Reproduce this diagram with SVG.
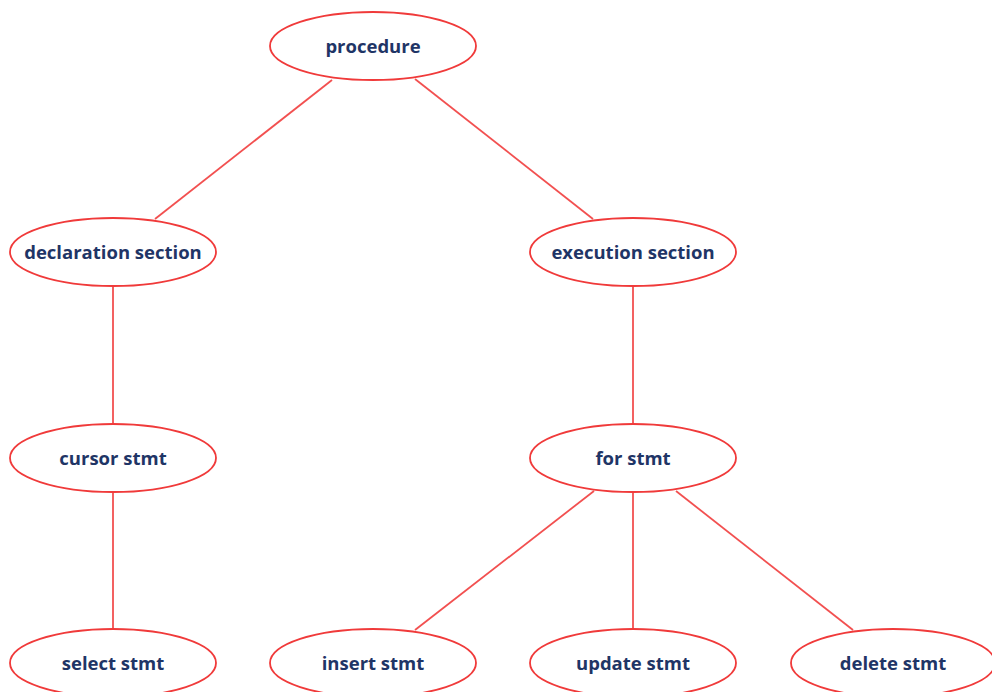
<svg xmlns="http://www.w3.org/2000/svg" width="992" height="692" viewBox="0 0 992 692">
<style>
.n ellipse{fill:#fff;stroke:#f03a3a;stroke-width:1.8}
.n text{font-family:"Open Sans","Noto Sans",sans-serif;font-weight:bold;font-size:18.5px;fill:#1f3566;text-anchor:middle;dominant-baseline:central}
#edges line{stroke:#f25050;stroke-width:1.8}
</style>
<rect width="992" height="692" fill="#fff"/>
<g id="edges">
<line x1="332" y1="80" x2="155" y2="219"/>
<line x1="415" y1="79" x2="593" y2="219"/>
<line x1="113" y1="286" x2="113" y2="424"/>
<line x1="633" y1="286" x2="633" y2="424"/>
<line x1="113" y1="492" x2="113" y2="629"/>
<line x1="594" y1="491" x2="415" y2="630"/>
<line x1="633" y1="492" x2="633" y2="629"/>
<line x1="676" y1="491" x2="853" y2="630"/>
</g>
<g id="procedure" class="n"><ellipse cx="373" cy="46" rx="103" ry="34"/><text x="373" y="45">procedure</text></g>
<g id="declaration" class="n"><ellipse cx="113" cy="252" rx="103" ry="34"/><text x="113" y="251">declaration section</text></g>
<g id="execution" class="n"><ellipse cx="633" cy="252" rx="103" ry="34"/><text x="633" y="251">execution section</text></g>
<g id="cursor" class="n"><ellipse cx="113" cy="458" rx="103" ry="34"/><text x="113" y="457">cursor stmt</text></g>
<g id="for" class="n"><ellipse cx="633" cy="458" rx="103" ry="34"/><text x="633" y="457">for stmt</text></g>
<g id="select" class="n"><ellipse cx="113" cy="663" rx="103" ry="34"/><text x="113" y="662">select stmt</text></g>
<g id="insert" class="n"><ellipse cx="373" cy="663" rx="103" ry="34"/><text x="373" y="662">insert stmt</text></g>
<g id="update" class="n"><ellipse cx="633" cy="663" rx="103" ry="34"/><text x="633" y="662">update stmt</text></g>
<g id="delete" class="n"><ellipse cx="893" cy="663" rx="102" ry="34"/><text x="893" y="662">delete stmt</text></g>
</svg>
